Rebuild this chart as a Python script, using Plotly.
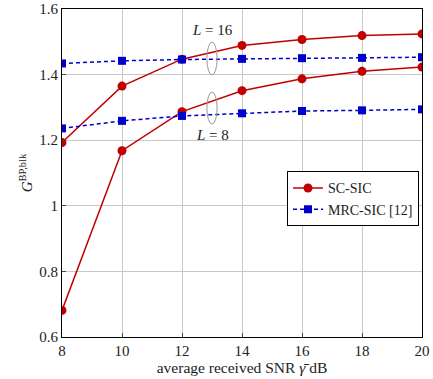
import plotly.graph_objects as go

snr = [8, 10, 12, 14, 16, 18, 20]
sc_sic_L16 = [1.193, 1.365, 1.447, 1.489, 1.507, 1.519, 1.524]
sc_sic_L8 = [0.681, 1.168, 1.287, 1.351, 1.387, 1.410, 1.423]
mrc_sic_L16 = [1.434, 1.442, 1.446, 1.448, 1.450, 1.451, 1.453]
mrc_sic_L8 = [1.236, 1.259, 1.274, 1.282, 1.289, 1.291, 1.294]
x_ticks = [8, 10, 12, 14, 16, 18, 20]
y_ticks = [0.6, 0.8, 1.0, 1.2, 1.4, 1.6]
y_tick_text = ["0.6", "0.8", "1", "1.2", "1.4", "1.6"]

RED = "#c00000"
BLUE = "#0000cc"
FONT = "Liberation Serif, Times New Roman, serif"
DASH = "4px,3px"

fig = go.Figure()
fig.add_trace(go.Scatter(x=snr, y=sc_sic_L16, mode="lines+markers", name="SC-SIC",
                         line=dict(color=RED, width=1.5),
                         marker=dict(symbol="circle", size=9, color=RED)))
fig.add_trace(go.Scatter(x=snr, y=sc_sic_L8, mode="lines+markers", name="SC-SIC",
                         showlegend=False,
                         line=dict(color=RED, width=1.5),
                         marker=dict(symbol="circle", size=9, color=RED)))
fig.add_trace(go.Scatter(x=snr, y=mrc_sic_L16, mode="lines+markers", name="MRC-SIC [12]",
                         line=dict(color=BLUE, width=1.5, dash=DASH),
                         marker=dict(symbol="square", size=8, color=BLUE)))
fig.add_trace(go.Scatter(x=snr, y=mrc_sic_L8, mode="lines+markers", name="MRC-SIC [12]",
                         showlegend=False,
                         line=dict(color=BLUE, width=1.5, dash=DASH),
                         marker=dict(symbol="square", size=8, color=BLUE)))

# ellipses grouping curves
fig.add_shape(type="circle", xref="x", yref="y", x0=12.83, x1=13.17, y0=1.399, y1=1.499,
              line=dict(color="#999999", width=1))
fig.add_shape(type="circle", xref="x", yref="y", x0=12.83, x1=13.17, y0=1.249, y1=1.347,
              line=dict(color="#999999", width=1))

fig.add_annotation(x=13, y=1.505, text="<i>L</i> = 16", showarrow=False,
                   font=dict(family=FONT, size=15, color="#222222"), xanchor="center", yanchor="bottom")
fig.add_annotation(x=13, y=1.245, text="<i>L</i> = 8", showarrow=False,
                   font=dict(family=FONT, size=15, color="#222222"), xanchor="center", yanchor="top")

fig.update_layout(
    width=433, height=379,
    margin=dict(l=62, r=11, t=9, b=42),
    paper_bgcolor="white", plot_bgcolor="white",
    font=dict(family=FONT, size=14, color="#222222"),
    legend=dict(x=0.625, y=0.505, xanchor="left", yanchor="top",
                bgcolor="white", bordercolor="black", borderwidth=1,
                font=dict(family=FONT, size=14), tracegroupgap=0, itemwidth=30),
    xaxis=dict(range=[8, 20], tickvals=x_ticks, showgrid=True, gridcolor="#c8c8c8",
               showline=True, linecolor="black", linewidth=1.2, mirror=True,
               ticks="inside", ticklen=4, zeroline=False, automargin=False,
               tickfont=dict(family=FONT, size=15),
               title=dict(text="average received SNR <i>γ̄</i> dB", standoff=4,
                          font=dict(family=FONT, size=15.5))),
    yaxis=dict(range=[0.6, 1.6], tickvals=y_ticks, ticktext=y_tick_text, showgrid=True,
               gridcolor="#c8c8c8", showline=True, linecolor="black", linewidth=1.2, mirror=True,
               ticks="inside", ticklen=4, zeroline=False, automargin=False,
               tickfont=dict(family=FONT, size=15),
               title=dict(text="<i>G</i><sup>BP,blk</sup>", standoff=2,
                          font=dict(family=FONT, size=15))),
)

fig.write_html("out.html", config={"displayModeBar": False},
               post_script="document.body.style.margin='0';document.body.style.overflow='hidden';")
